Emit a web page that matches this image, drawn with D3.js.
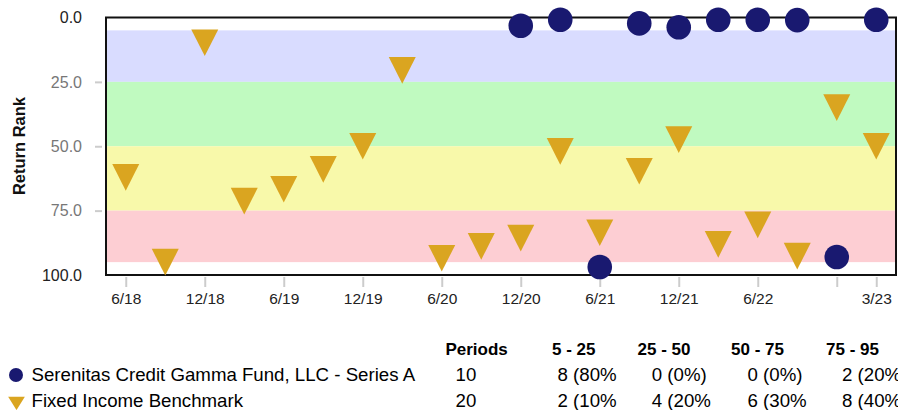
<!DOCTYPE html>
<html>
<head>
<meta charset="utf-8">
<script src="https://cdn.jsdelivr.net/npm/d3@7"></script>
<style>
  html, body { margin: 0; padding: 0; background: #fff; }
  svg { display: block; font-family: "Liberation Sans", Arial, Helvetica, sans-serif; }
</style>
</head>
<body>
<svg id="chart" width="898" height="410"></svg>
<script>
// ---------- data ----------
const quarters = ["6/18","9/18","12/18","3/19","6/19","9/19","12/19","3/20","6/20","9/20",
                  "12/20","3/21","6/21","9/21","12/21","3/22","6/22","9/22","12/22","3/23"];
const benchmarkValues = [62.1, 95.0, 9.8, 71.3, 66.7, 59.0, 50.0, 20.5, 93.5, 88.9,
                         85.7, 52.0, 83.6, 59.7, 47.4, 88.1, 80.5, 92.7, 35.0, 50.0];
const fundQuarters = ["12/20","3/21","6/21","9/21","12/21","3/22","6/22","9/22","12/22","3/23"];
const fundValues = [3.2, 0.9, 96.9, 2.3, 3.8, 0.9, 0.9, 1.0, 93.0, 0.9];
const xTickValues = ["6/18","12/18","6/19","12/19","6/20","12/20","6/21","12/21","6/22","12/22","3/23"];
const xTickLabels = ["6/18","12/18","6/19","12/19","6/20","12/20","6/21","12/21","6/22","","3/23"];
const yTickValues = [0, 25, 50, 75, 100];
const bandRanges = [[5, 25], [25, 50], [50, 75], [75, 95]];
const seriesNames = ["Serenitas Credit Gamma Fund, LLC - Series A", "Fixed Income Benchmark"];
const tableHeaders = ["Periods", "5 - 25", "25 - 50", "50 - 75", "75 - 95"];
const fundRow = ["10", "8 (80%", "0 (0%)", "0 (0%)", "2 (20%"];
const benchmarkRow = ["20", "2 (10%", "4 (20%", "6 (30%", "8 (40%"];

// ---------- layout ----------
const svg = d3.select("#chart");
const plot = { left: 106, right: 896, top: 17.5, bottom: 275 };
const bandColors = ["#d9dcff", "#c0fac0", "#f8f9aa", "#fdced3"];
const navy = "#191970";
const gold = "#daa520";

const x = d3.scalePoint().domain(quarters).range([plot.left, plot.right]).padding(0.5);
const y = d3.scaleLinear().domain([0, 100]).range([plot.top, plot.bottom]);

// bands
svg.append("g").selectAll("rect").data(bandRanges).join("rect")
  .attr("x", plot.left).attr("width", plot.right - plot.left)
  .attr("y", d => y(d[0])).attr("height", d => y(d[1]) - y(d[0]))
  .attr("fill", (d, i) => bandColors[i]);

// frame
svg.append("rect")
  .attr("x", plot.left).attr("y", plot.top)
  .attr("width", plot.right - plot.left).attr("height", plot.bottom - plot.top)
  .attr("fill", "none").attr("stroke", "#111").attr("stroke-width", 2);

// x axis
const xAxis = d3.axisBottom(x).tickValues(xTickValues)
  .tickFormat((d, i) => xTickLabels[i]).tickSizeInner(10).tickSizeOuter(0).tickPadding(6);
const gx = svg.append("g").attr("transform", `translate(0,${plot.bottom + 2})`).call(xAxis);
gx.select(".domain").remove();
gx.selectAll(".tick line").attr("stroke", "#cccccc").attr("stroke-width", 2);
gx.selectAll(".tick text").attr("fill", "#222").style("font-size", "15.5px")
  .style("font-family", "'Liberation Sans', Arial, sans-serif");

// y axis
const yAxis = d3.axisLeft(y).tickValues(yTickValues).tickFormat(d3.format(".1f"))
  .tickSizeInner(7).tickSizeOuter(0).tickPadding(13);
const gy = svg.append("g").attr("transform", `translate(${plot.left - 4},0)`).call(yAxis);
gy.select(".domain").remove();
gy.selectAll(".tick line").attr("stroke", "#cccccc").attr("stroke-width", 2)
  .attr("opacity", d => (d === 0 || d === 100) ? 0 : 1);
gy.selectAll(".tick text")
  .attr("fill", d => (d === 0 || d === 100) ? "#222" : "#777")
  .style("font-size", "16px")
  .style("font-family", "'Liberation Sans', Arial, sans-serif");

// y title
svg.append("text")
  .attr("transform", `translate(25,146) rotate(-90)`)
  .attr("text-anchor", "middle")
  .style("font-size", "16.5px").style("font-weight", "bold").attr("fill", "#111")
  .text("Return Rank");

// markers
const tri = (w, h) => `M${-w/2},${-h/2}L${w/2},${-h/2}L0,${h/2}Z`;
svg.append("g").selectAll("path").data(benchmarkValues).join("path")
  .attr("d", tri(27, 26.7))
  .attr("transform", (d, i) => `translate(${x(quarters[i])},${y(d)})`)
  .attr("fill", gold);

svg.append("g").selectAll("circle").data(fundValues).join("circle")
  .attr("cx", (d, i) => x(fundQuarters[i])).attr("cy", d => y(d))
  .attr("r", 12.3).attr("fill", navy);

// legend + table
const headerY = 355, row1Y = 381, row2Y = 407;
const colX = [455.5, 557.5, 651.8, 747.5, 842];
const headX = [445.4, 552, 637.5, 731, 826];

svg.append("g").selectAll("text").data(tableHeaders).join("text")
  .attr("x", (d, i) => headX[i]).attr("y", headerY)
  .style("font-size", "17px").style("font-weight", "bold").attr("fill", "#000")
  .text(d => d);

svg.append("circle").attr("cx", 16).attr("cy", 375).attr("r", 7).attr("fill", navy);
svg.append("path").attr("d", tri(16.7, 13.4))
  .attr("transform", "translate(16.5,403.4)").attr("fill", gold);

svg.append("g").selectAll("text").data(seriesNames).join("text")
  .attr("x", 31.5).attr("y", (d, i) => i === 0 ? row1Y : row2Y)
  .style("font-size", "18.67px").attr("fill", "#000").text(d => d);

[fundRow, benchmarkRow].forEach((row, r) => {
  svg.append("g").selectAll("text").data(row).join("text")
    .attr("x", (d, i) => colX[i]).attr("y", r === 0 ? row1Y : row2Y)
    .style("font-size", "18.67px").attr("fill", "#000").text(d => d);
});
</script>
</body>
</html>
